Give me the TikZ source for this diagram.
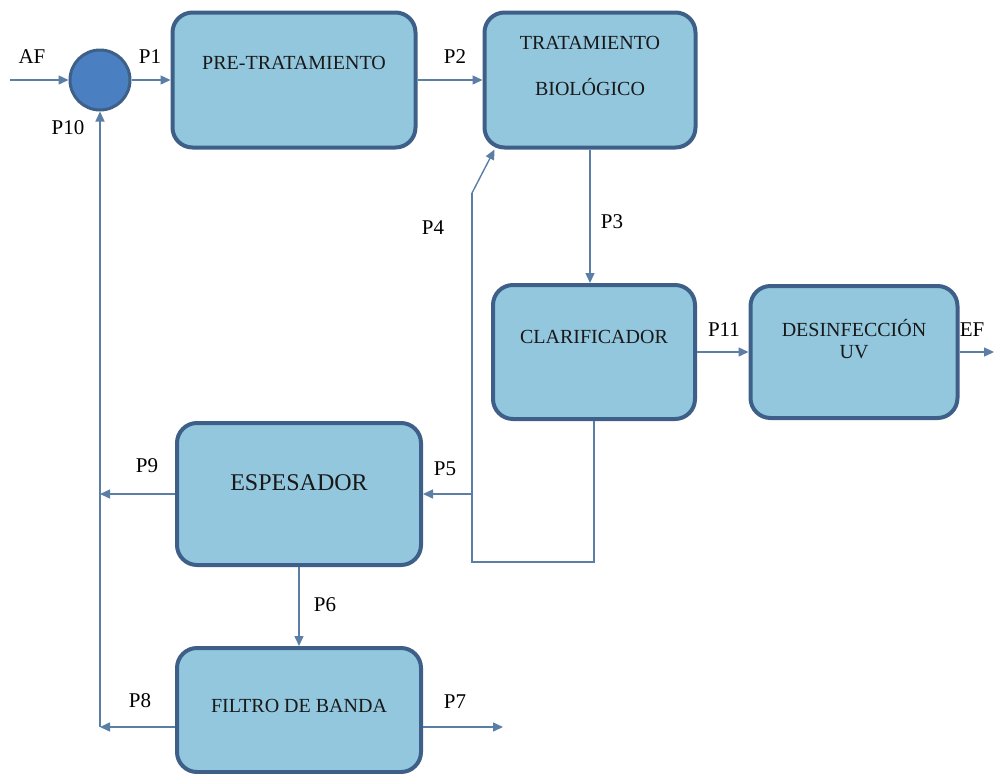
\documentclass[tikz,border=0pt]{standalone}
\usepackage{fontspec}
\setmainfont{Liberation Serif}
\usetikzlibrary{arrows.meta,calc}
\definecolor{BoxClr}{RGB}{146,199,222}
\definecolor{EdgeClr}{RGB}{62,96,136}
\definecolor{MixClr}{RGB}{74,128,193}
\definecolor{FlowClr}{RGB}{90,126,166}

\begin{document}
\begin{tikzpicture}[x=1pt,y=-1pt,
  unit/.style={draw=EdgeClr,line width=4pt,fill=BoxClr,rounded corners=20pt,inner sep=0pt},
  flow/.style={draw=FlowClr,line width=1.4pt,-{Triangle[length=10pt,width=9pt]}},
  pipe/.style={draw=FlowClr,line width=1.4pt},
  tag/.style={font=\fontsize{21}{23}\selectfont},
  txt/.style={font=\fontsize{20}{22}\selectfont,text=black!90}]
\useasboundingbox (0,0) rectangle (994,774);

% units
\node[circle,draw=EdgeClr,line width=3pt,fill=MixClr,minimum size=60pt,inner sep=0pt] (mix) at (100,80) {};
\node[unit,minimum width=243pt,minimum height=135pt,label={[txt,yshift=17pt]center:PRE-TRATAMIENTO}] (pre) at (294,80) {};
\node[unit,minimum width=211pt,minimum height=135pt,label={[txt,yshift=14pt,align=center]center:TRATAMIENTO\\[24pt]BIOLÓGICO}] (bio) at (590,80) {};
\node[unit,minimum width=202pt,minimum height=134pt,label={[txt,yshift=15pt]center:CLARIFICADOR}] (cla) at (594,352) {};
\node[unit,minimum width=207pt,minimum height=132pt,label={[txt,yshift=13pt,align=center]center:DESINFECCIÓN\\UV}] (uv) at (854,352) {};
\node[unit,minimum width=244pt,minimum height=142pt,label={[font=\fontsize{24}{26}\selectfont,text=black!90,yshift=11pt]center:ESPESADOR}] (esp) at (299,494) {};
\node[unit,minimum width=244pt,minimum height=124pt,label={[txt,yshift=4pt]center:FILTRO DE BANDA}] (fil) at (299,710) {};

% free ends
\coordinate (af) at (10,80);
\coordinate (ef) at (994,352);
\coordinate (rec) at (100,727);
\coordinate (ret) at (472,562);
\coordinate (knee) at (472,193);
\coordinate (p7) at (503,727);

% streams
\draw[flow] (af) -- (mix);
\draw[flow] (mix) -- (pre);
\draw[flow] (pre) -- (bio);
\draw[flow] (bio.south) -- (bio.south |- cla.north);
\draw[flow] (cla) -- (uv);
\draw[flow] (uv.east) -- (ef);
\draw[pipe] (cla.south) |- (ret) -- (knee);
\draw[flow] (knee) -- ([xshift=12pt]bio.south west);
\draw[flow] (knee |- esp.east) -- (esp.east);
\draw[flow] (esp.west) -- (rec |- esp.west);
\draw[flow] (esp) -- (fil);
\draw[flow] ([yshift=-17pt]fil.west) -- (rec);
\draw[flow] ([yshift=-17pt]fil.east) -- (p7);
\draw[flow] (rec) -- (mix.south);

% labels
\node[tag] (lAF) at (32,57) {AF};
\node[tag] (lP1) at (150,57) {P1};
\node[tag] (lP2) at (455,57) {P2};
\node[tag] (lP3) at (612,222) {P3};
\node[tag] (lP4) at (433,228) {P4};
\node[tag] (lP5) at (445,469) {P5};
\node[tag] (lP6) at (325,605) {P6};
\node[tag] (lP7) at (455,702) {P7};
\node[tag] (lP8) at (140,701) {P8};
\node[tag] (lP9) at (147,466) {P9};
\node[tag] (lP10) at (68,128) {P10};
\node[tag] (lP11) at (724,330) {P11};
\node[tag] (lEF) at (972,330) {EF};
\end{tikzpicture}
\end{document}
